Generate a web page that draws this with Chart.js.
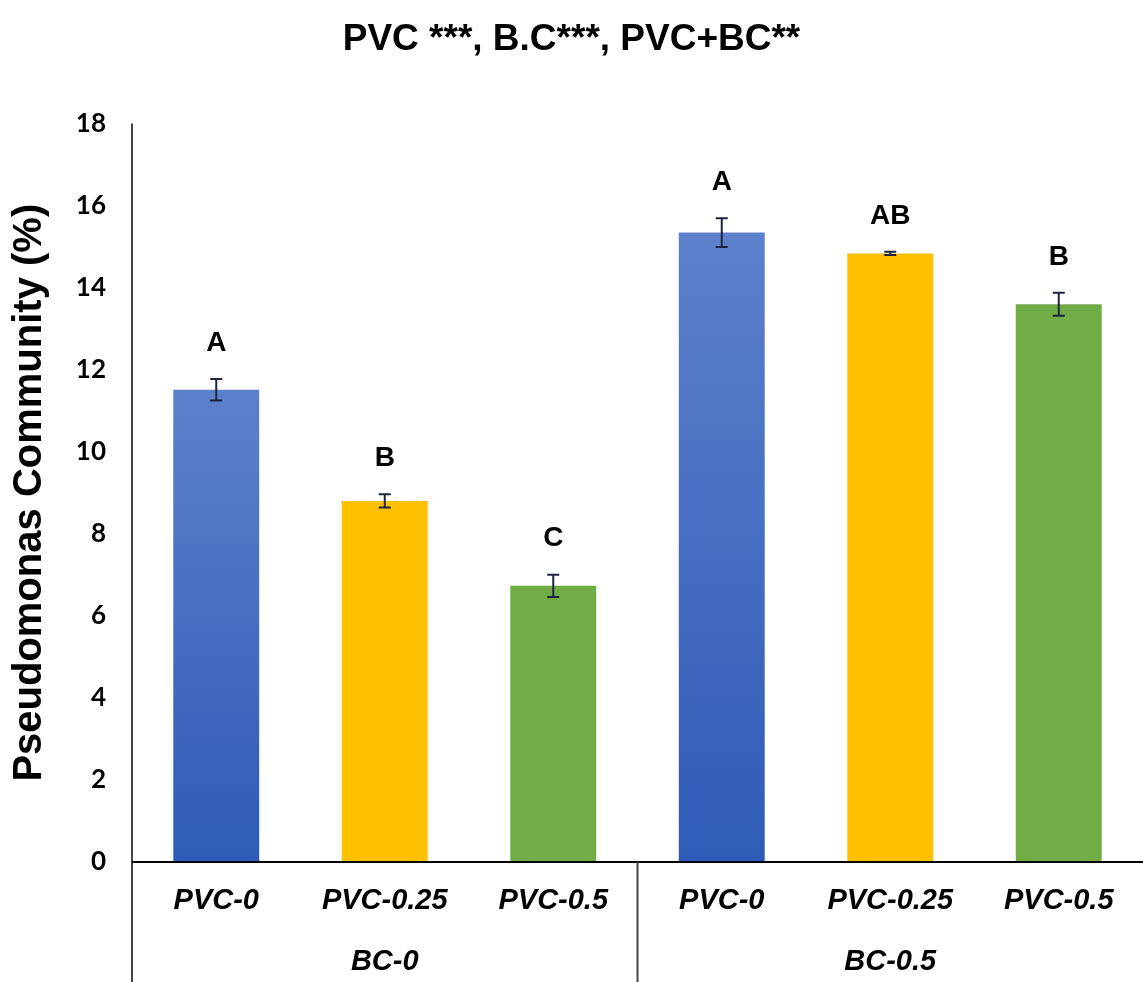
<!DOCTYPE html>
<html>
<head>
<meta charset="utf-8">
<script src="https://cdn.jsdelivr.net/npm/chart.js@4.4.1/dist/chart.umd.min.js"></script>
<style>
  html, body { margin: 0; padding: 0; background: #fff; }
  #wrap { width: 1143px; height: 982px; }
</style>
</head>
<body>
<div id="wrap"><canvas id="chart"></canvas></div>
<script>
// data
const categories = ['PVC-0', 'PVC-0.25', 'PVC-0.5', 'PVC-0', 'PVC-0.25', 'PVC-0.5'];
const groups = ['BC-0', 'BC-0.5'];
const values = [11.51, 8.80, 6.73, 15.34, 14.83, 13.59];
const errors = [0.26, 0.16, 0.27, 0.35, 0.04, 0.28];
const letters = ['A', 'B', 'C', 'A', 'AB', 'B'];
const yTicks = [0, 2, 4, 6, 8, 10, 12, 14, 16, 18];

const ARIAL = "'Liberation Sans', Arial, sans-serif";

// warna batang: biru gradien, kuning, hijau
function barColor(ctx) {
    const i = ctx.dataIndex;
    if (i % 3 === 1) return '#FFC000';
    if (i % 3 === 2) return '#70AD47';
    const chart = ctx.chart;
    const y = chart.scales.y;
    if (!chart.chartArea || !y) return '#4472C4';
    const top = y.getPixelForValue(values[i]);
    const bottom = y.getPixelForValue(0);
    const g = chart.ctx.createLinearGradient(0, top, 0, bottom);
    g.addColorStop(0, '#5D80CB');
    g.addColorStop(1, '#2E5BB7');
    return g;
}

// error bars, huruf signifikansi, garis sumbu dan label grup
const extras = {
    id: 'extras',
    afterDatasetsDraw(chart) {
        const { ctx, scales: { x, y } } = chart;
        ctx.save();
        values.forEach((v, i) => {
            const cx = x.getPixelForValue(i);
            const hi = y.getPixelForValue(v + errors[i]);
            const lo = y.getPixelForValue(v - errors[i]);
            ctx.strokeStyle = '#1c2440';
            ctx.lineWidth = 2;
            ctx.beginPath();
            ctx.moveTo(cx, hi); ctx.lineTo(cx, lo);
            ctx.moveTo(cx - 6, hi); ctx.lineTo(cx + 6, hi);
            ctx.moveTo(cx - 6, lo); ctx.lineTo(cx + 6, lo);
            ctx.stroke();

            ctx.fillStyle = '#000';
            ctx.font = 'bold 28px ' + ARIAL;
            ctx.textAlign = 'center';
            ctx.textBaseline = 'middle';
            ctx.fillText(letters[i], cx, hi - 36);
        });
        ctx.restore();
    },
    afterDraw(chart) {
        const { ctx, chartArea, scales: { x, y } } = chart;
        const H = chart.height;
        const zeroY = y.getPixelForValue(0);
        ctx.save();
        ctx.lineWidth = 2;
        // sumbu Y memanjang sampai bawah
        ctx.strokeStyle = '#444';
        ctx.beginPath();
        ctx.moveTo(chartArea.left, chartArea.top);
        ctx.lineTo(chartArea.left, H);
        ctx.stroke();
        // sumbu X
        ctx.strokeStyle = '#000';
        ctx.beginPath();
        ctx.moveTo(chartArea.left, zeroY);
        ctx.lineTo(chartArea.right, zeroY);
        ctx.stroke();
        // pemisah grup
        const mid = (x.getPixelForValue(2) + x.getPixelForValue(3)) / 2;
        ctx.strokeStyle = '#444';
        ctx.beginPath();
        ctx.moveTo(mid, zeroY);
        ctx.lineTo(mid, H);
        ctx.stroke();
        // label grup
        ctx.fillStyle = '#000';
        ctx.font = 'italic bold 29px ' + ARIAL;
        ctx.textAlign = 'center';
        ctx.textBaseline = 'middle';
        groups.forEach((g, gi) => {
            const gx = (x.getPixelForValue(gi * 3) + x.getPixelForValue(gi * 3 + 2)) / 2;
            ctx.fillText(g, gx, zeroY + 100);
        });
        ctx.restore();
    }
};

const ctx = document.getElementById('chart').getContext('2d');
new Chart(ctx, {
    type: 'bar',
    data: {
        labels: categories,
        datasets: [{
            label: 'Pseudomonas',
            data: values,
            backgroundColor: barColor,
            barPercentage: 0.51,
            categoryPercentage: 1.0,
        }]
    },
    options: {
        responsive: true,
        maintainAspectRatio: false,
        animation: false,
        layout: { padding: { left: 0, right: 0, top: 0, bottom: 0 } },
        plugins: {
            legend: { display: false },
            tooltip: { enabled: false },
            title: {
                display: true,
                text: 'PVC ***, B.C***, PVC+BC**',
                color: '#000',
                font: { family: ARIAL, size: 37, weight: 'bold' },
                padding: { top: 18, bottom: 61 }
            }
        },
        scales: {
            x: {
                grid: { display: false, drawTicks: false },
                border: { display: false },
                ticks: {
                    color: '#000',
                    padding: 22,
                    maxRotation: 0,
                    font: { family: ARIAL, size: 29, weight: 'bold', style: 'italic' }
                },
                afterFit: (scale) => { scale.height = 120; }
            },
            y: {
                min: 0,
                max: 18,
                grid: { display: false, drawTicks: false },
                border: { display: false },
                afterBuildTicks: (scale) => { scale.ticks = yTicks.map(v => ({ value: v })); },
                ticks: {
                    color: '#000',
                    padding: 26,
                    font: { family: 'Lato, sans-serif', size: 26, weight: 'bold' }
                },
                title: {
                    display: true,
                    text: 'Pseudomonas Community (%)',
                    color: '#000',
                    font: { family: ARIAL, size: 40, weight: 'bold' },
                    padding: { top: 6, bottom: 0 }
                },
                afterFit: (scale) => { scale.width = 132; }
            }
        }
    },
    plugins: [extras]
});
</script>
</body>
</html>
